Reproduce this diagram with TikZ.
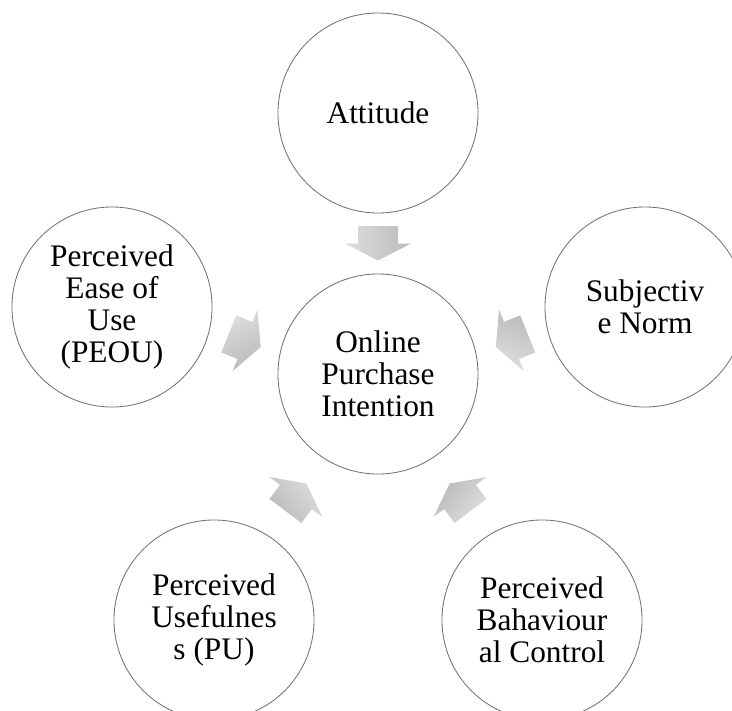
\documentclass[tikz,border=0pt]{standalone}
\usepackage{fontspec}
\setmainfont{Liberation Serif}
\usetikzlibrary{calc}

\tikzset{
  factor/.style={circle, draw=black!55, line width=0.6pt, fill=white,
    minimum size=5cm, inner sep=0pt, align=center,
    font=\fontsize{22.3}{22.8}\selectfont},
  pics/flowarrow/.style={code={
    \shade[rotate=#1, top color=black!13, bottom color=black!27, shading angle=-#1]
      (-17.5,-20) -- (0,-20) -- (0,-33) -- (17,0) -- (0,33) -- (0,20) -- (-17.5,20) -- cycle;
  }}
}

\begin{document}
\begin{tikzpicture}[x=0.025cm, y=-0.025cm]
    \clip (0,0) rectangle (732,711);
    \node[factor] (opi) at (378,374) {Online\\Purchase\\Intention};
    \node[factor] (att) at (378,113) {Attitude};
    \node[factor] (sn) at (645,307) {Subjectiv\\e Norm};
    \node[factor] (peou) at (112,307) {Perceived\\Ease of\\Use\\(PEOU)};
    \node[factor] (pu) at (214,620) {Perceived\\Usefulnes\\s (PU)};
    \node[factor] (pbc) at (542,620) {Perceived\\Bahaviour\\al Control};
    % arrows into the centre
    \path ($(att)!0.5!(opi)$) pic {flowarrow=-90};
    \path ($(peou)!0.5!(opi)$) pic {flowarrow=-22};
    \path ($(sn)!0.5!(opi)$) pic {flowarrow=202};
    \path ($(pu)!0.5!(opi)$) pic {flowarrow=53};
    \path ($(pbc)!0.5!(opi)$) pic {flowarrow=127};
\end{tikzpicture}
\end{document}
